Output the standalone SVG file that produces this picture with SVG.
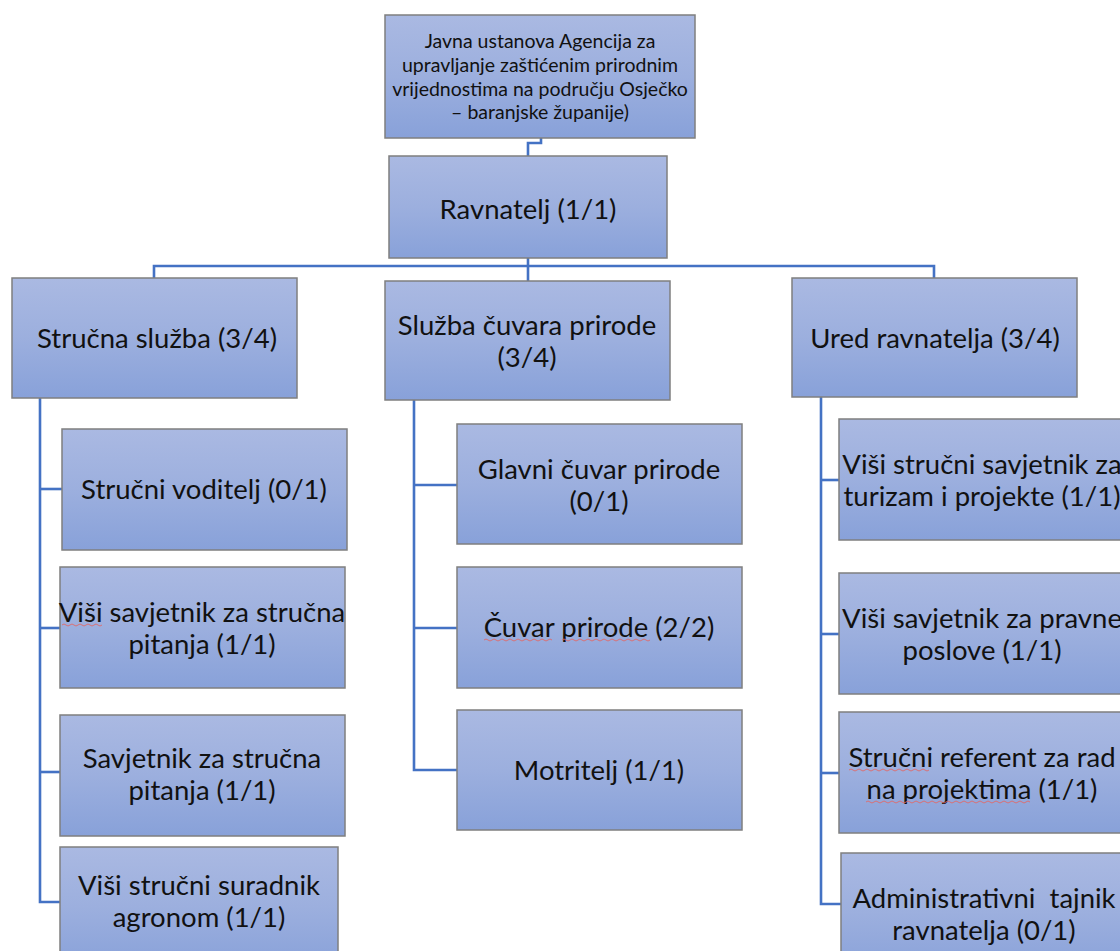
<svg xmlns="http://www.w3.org/2000/svg" width="1120" height="951" viewBox="0 0 1120 951">
<defs>
<linearGradient id="g" x1="0" y1="0" x2="0" y2="1">
<stop offset="0" stop-color="#aab9e2"/>
<stop offset="0.5" stop-color="#9cafde"/>
<stop offset="1" stop-color="#88a1d9"/>
</linearGradient>
</defs>
<style>
.box{fill:url(#g);stroke:#7f7f7f;stroke-width:1.5}
.t{font-family:Lato,"Liberation Sans",sans-serif;font-size:27.5px;fill:#111;text-anchor:middle}
.s{font-family:Lato,"Liberation Sans",sans-serif;font-size:19.5px;fill:#111;text-anchor:middle}
.c{fill:none;stroke:#4472c4;stroke-width:2.6}
.sq{fill:none;stroke:#e06a6a;stroke-width:0.9}
</style>
<rect width="1120" height="951" fill="#fff"/>
<g id="connectors">
<polyline class="c" points="541,138 541,143 528,143 528,156"/>
<polyline class="c" points="528,258 528,266"/>
<polyline class="c" points="154,278 154,266 934,266 934,278"/>
<polyline class="c" points="528,266 528,281"/>
<polyline class="c" points="40,397 40,902 60,902"/>
<line class="c" x1="40" y1="489" x2="62" y2="489"/>
<line class="c" x1="40" y1="628" x2="60" y2="628"/>
<line class="c" x1="40" y1="772" x2="60" y2="772"/>
<polyline class="c" points="414,400 414,770 457,770"/>
<line class="c" x1="414" y1="485" x2="457" y2="485"/>
<line class="c" x1="414" y1="628" x2="457" y2="628"/>
<polyline class="c" points="821,397 821,904 841,904"/>
<line class="c" x1="821" y1="480" x2="839" y2="480"/>
<line class="c" x1="821" y1="634" x2="839" y2="634"/>
<line class="c" x1="821" y1="773" x2="839" y2="773"/>
</g>
<g id="agencija">
<rect class="box" x="385" y="15" width="310" height="123"/>
<text class="s" x="540" y="48">Javna ustanova Agencija za</text>
<text class="s" x="540" y="72">upravljanje zaštićenim prirodnim</text>
<text class="s" x="540" y="96">vrijednostima na području Osječko</text>
<text class="s" x="540" y="119">– baranjske županije)</text>
</g>
<g id="ravnatelj">
<rect class="box" x="389" y="156" width="278" height="102"/>
<text class="t" x="528" y="219">Ravnatelj (1/1)</text>
</g>
<g id="strucna-sluzba">
<rect class="box" x="12" y="278" width="285" height="120"/>
<text class="t" x="157" y="348">Stručna služba (3/4)</text>
</g>
<g id="sluzba-cuvara">
<rect class="box" x="385" y="281" width="285" height="119"/>
<text class="t" x="527" y="335">Služba čuvara prirode</text>
<text class="t" x="527" y="367">(3/4)</text>
</g>
<g id="ured-ravnatelja">
<rect class="box" x="792" y="278" width="285" height="119"/>
<text class="t" x="935" y="348">Ured ravnatelja (3/4)</text>
</g>
<g id="strucni-voditelj">
<rect class="box" x="62" y="429" width="285" height="121"/>
<text class="t" x="204" y="499">Stručni voditelj (0/1)</text>
</g>
<g id="visi-savjetnik-strucna">
<rect class="box" x="60" y="567" width="285" height="121"/>
<text class="t" x="202" y="622">Viši savjetnik za stručna</text>
<text class="t" x="202" y="654">pitanja (1/1)</text>
<path class="sq" d="M62,625 q2,-2 4,0 t4,0 t4,0 t4,0 t4,0 t4,0 t4,0 t4,0 t4,0 t4,0"/>
</g>
<g id="savjetnik-strucna">
<rect class="box" x="60" y="715" width="285" height="121"/>
<text class="t" x="202" y="768">Savjetnik za stručna</text>
<text class="t" x="202" y="800">pitanja (1/1)</text>
</g>
<g id="visi-strucni-suradnik">
<rect class="box" x="60" y="847" width="278" height="121"/>
<text class="t" x="199" y="895">Viši stručni suradnik</text>
<text class="t" x="199" y="927">agronom (1/1)</text>
</g>
<g id="glavni-cuvar">
<rect class="box" x="457" y="424" width="285" height="120"/>
<text class="t" x="599" y="479">Glavni čuvar prirode</text>
<text class="t" x="599" y="511">(0/1)</text>
</g>
<g id="cuvar-prirode">
<rect class="box" x="457" y="567" width="285" height="121"/>
<text class="t" x="599" y="637">Čuvar prirode (2/2)</text>
<path class="sq" d="M484,640 q2,-2 4,0 t4,0 t4,0 t4,0 t4,0 t4,0 t4,0 t4,0 t4,0 t4,0 t4,0 t4,0 t4,0 t4,0 t4,0 t4,0 t4,0 M562,640 q2,-2 4,0 t4,0 t4,0 t4,0 t4,0 t4,0 t4,0 t4,0 t4,0 t4,0 t4,0 t4,0 t4,0 t4,0 t4,0 t4,0 t4,0 t4,0 t4,0 t4,0 t4,0 t4,0"/>
</g>
<g id="motritelj">
<rect class="box" x="457" y="710" width="285" height="120"/>
<text class="t" x="599" y="780">Motritelj (1/1)</text>
</g>
<g id="visi-strucni-savjetnik">
<rect class="box" x="839" y="419" width="286" height="121"/>
<text class="t" x="982" y="474">Viši stručni savjetnik za</text>
<text class="t" x="982" y="506">turizam i projekte (1/1)</text>
</g>
<g id="visi-savjetnik-pravne">
<rect class="box" x="839" y="573" width="286" height="121"/>
<text class="t" x="982" y="628">Viši savjetnik za pravne</text>
<text class="t" x="982" y="660">poslove (1/1)</text>
</g>
<g id="strucni-referent">
<rect class="box" x="839" y="712" width="286" height="121"/>
<text class="t" x="982" y="767">Stručni referent za rad</text>
<text class="t" x="982" y="799">na projektima (1/1)</text>
<path class="sq" d="M849,770 q2,-2 4,0 t4,0 t4,0 t4,0 t4,0 t4,0 t4,0 t4,0 t4,0 t4,0 t4,0 t4,0 t4,0 t4,0 t4,0 t4,0 t4,0 t4,0 t4,0 t4,0 M866,802 q2,-2 4,0 t4,0 t4,0 t4,0 t4,0 t4,0 t4,0 t4,0 t4,0 t4,0 t4,0 t4,0 t4,0 t4,0 t4,0 t4,0 t4,0 t4,0 t4,0 t4,0 t4,0 t4,0 t4,0 t4,0 t4,0 t4,0 t4,0 t4,0 t4,0 t4,0 t4,0 t4,0 t4,0 t4,0 t4,0 t4,0 t4,0 t4,0 t4,0 t4,0 t4,0"/>
</g>
<g id="administrativni-tajnik">
<rect class="box" x="841" y="853" width="286" height="121"/>
<text class="t" x="984" y="908" xml:space="preserve">Administrativni  tajnik</text>
<text class="t" x="984" y="940">ravnatelja (0/1)</text>
</g>
</svg>
